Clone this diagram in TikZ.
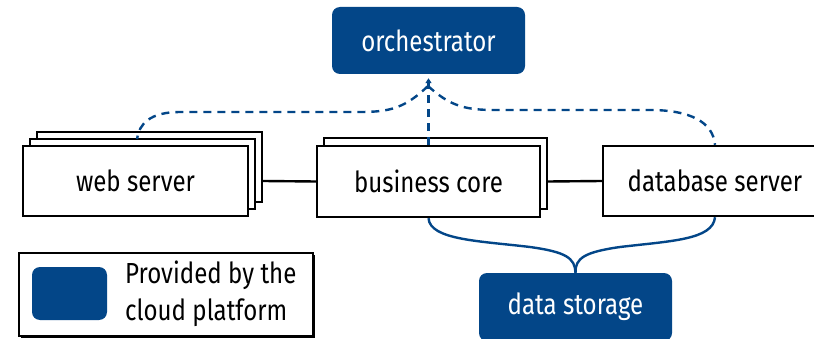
\documentclass[tikz,border=0pt]{standalone}
\usepackage{fontspec}
\setmainfont{Fira Sans}[FakeStretch=0.83]
\usetikzlibrary{arrows.meta}
\definecolor{cloudblue}{RGB}{3,70,136}
\tikzset{
  x=1pt, y=-1pt,
  box/.style={draw=black, line width=2.4pt, fill=white, inner sep=0pt},
  cloud/.style={fill=cloudblue, rounded corners=8pt, text=white, inner sep=0pt},
  label/.style={font=\fontsize{29}{34}\selectfont},
  ctrl/.style={draw=cloudblue, line width=2.4pt, dash pattern=on 8pt off 6pt},
  store/.style={draw=cloudblue, line width=2.4pt},
  link/.style={draw=black, line width=2.4pt},
}
\begin{document}
\begin{tikzpicture}
\useasboundingbox (0,0) rectangle (814,339);

% orchestrator and data storage (platform services)
\node[cloud, label, minimum width=193pt, minimum height=67pt] (orch) at (428.5,40.5) {orchestrator};
\node[cloud, label, minimum width=193pt, minimum height=68pt] (store) at (575.5,307) {data storage};

% web server: three stacked instances
\node[box, minimum width=225pt, minimum height=70pt] (web3) at (149.5,167) {};
\node[box, minimum width=225pt, minimum height=70pt] (web2) at (142.5,174) {};
\node[box, label, minimum width=225pt, minimum height=70pt] (web) at (135.5,181) {web server};

% business core: two stacked instances
\node[box, minimum width=223pt, minimum height=71pt] (core2) at (435.5,173.5) {};
\node[box, label, minimum width=223pt, minimum height=71pt] (core) at (428.5,181.5) {business core};

% database server (runs off the right edge)
\node[box, label, minimum width=224pt, minimum height=70pt] (db) at (715,181) {database server};

% request path
\draw[link] (web3.east |- web.east) -- (core.west);
\draw[link] (core2.east |- core.east) -- (db.west);

% control links to the orchestrator
\coordinate (hub) at (428,86);
\draw[ctrl, -{Triangle[width=6pt,length=5pt]}] (core.north) -- ([yshift=-4pt]orch.south);
\draw[ctrl] (hub) .. controls (405,108) and (390,112) .. (360,112) -- (180,112)
  .. controls (150,112) and (139,124) .. (137,139);
\draw[ctrl] (hub) .. controls (450,106) and (465,110) .. (495,110) -- (650,110)
  .. controls (690,110) and (713,122) .. (db.north);

% storage links
\draw[store] (core.south) .. controls (430,240) and (480,241) .. (530,247)
  .. controls (566,252) and (575,258) .. (store.north);
\draw[store] (db.south) .. controls (713,240) and (670,241) .. (620,247)
  .. controls (585,252) and (575,258) .. (store.north);

% legend
\fill[black] (21,255) rectangle (315,338);
\node[box, minimum width=294pt, minimum height=83pt, anchor=north west] (legend) at (18,252) {};
\node[cloud, minimum width=75pt, minimum height=53pt] (key) at (69.5,293.5) {};
\node[anchor=west, align=left, inner sep=0pt, font=\fontsize{29}{37}\selectfont] (keytext) at (125,293.5) {Provided by the\\cloud platform};
\end{tikzpicture}
\end{document}
